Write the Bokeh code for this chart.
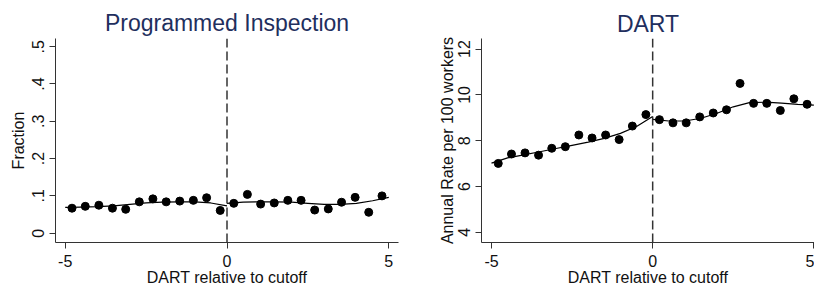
from bokeh.plotting import figure
from bokeh.layouts import row
from bokeh.models import Span, FixedTicker
from bokeh.embed import file_html
from bokeh.resources import INLINE

# ---- data: Programmed Inspection ----
pi_x = [-4.79, -4.38, -3.96, -3.54, -3.13, -2.71, -2.29, -1.88, -1.46, -1.04, -0.63, -0.21,
        0.21, 0.63, 1.04, 1.46, 1.88, 2.29, 2.71, 3.13, 3.54, 3.96, 4.38, 4.79]
pi_y = [0.067, 0.072, 0.075, 0.067, 0.064, 0.084, 0.092, 0.084, 0.086, 0.088, 0.095, 0.061,
        0.080, 0.104, 0.078, 0.081, 0.088, 0.088, 0.062, 0.065, 0.083, 0.096, 0.056, 0.100]
pi_fit_lx = [-5.0, -4.5, -4.0, -3.5, -3.0, -2.5, -2.0, -1.5, -1.0, -0.5, 0.0]
pi_fit_ly = [0.069, 0.070, 0.071, 0.073, 0.077, 0.081, 0.083, 0.084, 0.084, 0.081, 0.073]
pi_fit_rx = [0.0, 0.5, 1.0, 1.5, 2.0, 2.5, 3.0, 3.5, 4.0, 4.5, 5.0]
pi_fit_ry = [0.080, 0.083, 0.084, 0.084, 0.083, 0.080, 0.077, 0.077, 0.080, 0.087, 0.096]
pi_ticks = [0, 0.1, 0.2, 0.3, 0.4, 0.5]
pi_tick_labels = ["0", ".1", ".2", ".3", ".4", ".5"]

# ---- data: DART ----
d_x = pi_x
d_y = [7.01, 7.42, 7.47, 7.37, 7.67, 7.74, 8.25, 8.12, 8.25, 8.05, 8.64, 9.14,
       8.92, 8.78, 8.78, 9.04, 9.21, 9.35, 10.50, 9.63, 9.63, 9.32, 9.83, 9.59]
d_fit_lx = [-5.0, -4.5, -4.0, -3.5, -3.0, -2.5, -2.0, -1.5, -1.0, -0.5, 0.0]
d_fit_ly = [7.02, 7.25, 7.38, 7.52, 7.66, 7.80, 7.94, 8.10, 8.32, 8.62, 9.06]
d_fit_rx = [0.0, 0.5, 1.0, 1.5, 2.0, 2.5, 3.0, 3.5, 4.0, 4.5, 5.0]
d_fit_ry = [8.93, 8.86, 8.86, 8.98, 9.20, 9.48, 9.66, 9.68, 9.64, 9.59, 9.55]
d_ticks = [4, 6, 8, 10, 12]

x_ticks = [-5, 0, 5]
x_tick_labels = ["-5", "0", "5"]
FONT = "Liberation Sans"
TITLE_COLOR = "#1f2f5e"


def style(p, yticks, ylabels, ylab_standoff, yaxis_standoff, title_standoff, title_offset):
    p.title.text_font = FONT
    p.title.text_font_size = "23px"
    p.title.text_font_style = "normal"
    p.title.text_color = TITLE_COLOR
    p.title.align = "center"
    p.title.standoff = title_standoff
    p.title.offset = title_offset
    p.outline_line_color = None
    p.xgrid.visible = False
    p.ygrid.visible = False
    for ax in (p.xaxis[0], p.yaxis[0]):
        ax.axis_line_color = "#333333"
        ax.major_tick_line_color = "#333333"
        ax.major_tick_out = 6
        ax.major_tick_in = 0
        ax.minor_tick_line_color = None
        ax.major_label_text_font = FONT
        ax.major_label_text_font_size = "16px"
        ax.major_label_text_color = "#111111"
        ax.axis_label_text_font = FONT
        ax.axis_label_text_font_size = "16px"
        ax.axis_label_text_font_style = "normal"
        ax.axis_label_text_color = "#111111"
    p.xaxis[0].ticker = FixedTicker(ticks=x_ticks)
    p.xaxis[0].major_label_overrides = {t: l for t, l in zip(x_ticks, x_tick_labels)}
    p.xaxis[0].major_label_standoff = 6
    p.xaxis[0].axis_label_standoff = -1
    p.yaxis[0].ticker = FixedTicker(ticks=yticks)
    p.yaxis[0].major_label_orientation = "vertical"
    p.yaxis[0].major_label_standoff = ylab_standoff
    p.yaxis[0].axis_label_standoff = yaxis_standoff
    p.yaxis[0].major_label_overrides = {t: l for t, l in zip(yticks, ylabels)}
    p.add_layout(Span(location=0, dimension="height", line_color="#333333",
                      line_width=1.5, line_dash="9 4"))


p1 = figure(width=420, height=290, x_range=(-5.3, 5.3), y_range=(-0.025, 0.522),
            title="Programmed Inspection", output_backend="svg", toolbar_location=None,
            x_axis_label="DART relative to cutoff", y_axis_label="Fraction",
            min_border_left=55, min_border_right=22, min_border_top=38, min_border_bottom=48)
style(p1, pi_ticks, pi_tick_labels, 5, 3, 6, 0)
p1.line(pi_fit_lx, pi_fit_ly, line_color="black", line_width=1.2)
p1.line(pi_fit_rx, pi_fit_ry, line_color="black", line_width=1.2)
p1.scatter(pi_x, pi_y, size=8, fill_color="black", line_color="black")

p2 = figure(width=394, height=290, x_range=(-5.31, 5.02), y_range=(3.56, 12.46),
            title="DART", output_backend="svg", toolbar_location=None,
            x_axis_label="DART relative to cutoff", y_axis_label="Annual Rate per 100 workers",
            min_border_left=61, min_border_right=0, min_border_top=35, min_border_bottom=47)
style(p2, d_ticks, [str(t) for t in d_ticks], 5, 0, 3, 5)
p2.line(d_fit_lx, d_fit_ly, line_color="black", line_width=1.2)
p2.line(d_fit_rx, d_fit_ry, line_color="black", line_width=1.2)
p2.scatter(d_x, d_y, size=8, fill_color="black", line_color="black")

layout = row(p1, p2)
open("out.html", "w").write(file_html(layout, INLINE))
